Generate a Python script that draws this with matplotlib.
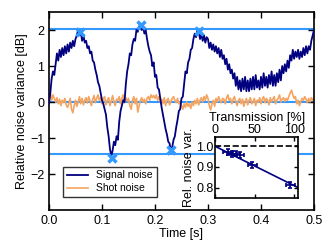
import numpy as np
import matplotlib
matplotlib.use("Agg")
import matplotlib.pyplot as plt

plt.rcParams['font.family'] = ['Liberation Sans', 'DejaVu Sans']

# ---------------- data ----------------
signal_noise = [
    -0.05, 0.25, 0.65, 0.85, 0.75, 1.05, 1.35, 1.15, 1.45, 1.25,
    1.5, 1.3, 1.55, 1.35, 1.6, 1.4, 1.65, 1.5, 1.7, 1.55,
    1.75, 1.85, 2.0, 1.85, 1.95, 1.7, 1.85, 1.65, 1.7, 1.5,
    1.55, 1.35, 1.4, 1.15, 1.1, 0.9, 0.75, 0.55, 0.45, 0.25,
    0.05, -0.05, -0.2, -0.35, -0.7, -0.95, -1.3, -1.5, -1.35, -1.1,
    -1.2, -0.95, -1.05, -0.55, -0.25, -0.1, 0.05, 0.0, 0.5, 0.85,
    1.05, 1.35, 1.3, 1.6, 1.75, 1.7, 2.0, 1.95, 2.1, 2.15,
    2.0, 2.1, 1.9, 2.0, 1.75, 1.55, 1.4, 1.3, 1.0, 1.1,
    0.7, 0.75, 0.4, 0.35, 0.1, -0.15, -0.35, -0.55, -0.75, -0.9,
    -1.1, -1.15, -1.35, -1.25, -1.05, -0.95, -0.7, -0.5, -0.25, -0.2,
    0.1, 0.15, 0.5, 0.85, 0.8, 1.1, 1.2, 1.45, 1.5, 1.75,
    1.9, 1.8, 2.0, 1.95, 1.75, 1.9, 1.7, 1.85, 1.65, 1.8,
    1.75, 1.5, 1.65, 1.45, 1.6, 1.4, 1.55, 1.35, 1.5, 1.25,
    1.45, 1.2, 1.3, 1.05, 1.2, 0.9, 1.05, 0.8, 0.9, 0.65,
    0.8, 0.45, 0.7, 0.35, 0.6, 0.3, 0.65, 0.35, 0.7, 0.3,
    0.6, 0.3, 0.65, 0.35, 0.7, 0.35, 0.75, 0.4, 0.6, 0.35,
    0.7, 0.4, 0.8, 0.45, 0.7, 0.4, 0.75, 0.5, 0.85, 0.45,
    0.75, 0.45, 0.8, 0.55, 0.9, 0.6, 1.0, 0.8, 1.05, 0.85,
    1.15, 0.95, 1.3, 1.15, 1.45, 1.2, 1.4, 1.25, 1.45, 1.2,
    1.4, 1.25, 1.5, 1.3, 1.55, 1.35, 1.55, 1.45, 1.7, 1.85,
    2.0,
]

shot_noise = [
    0.15, 0.25, 0.05, 0.2, 0.1, 0.0, 0.12, -0.05, 0.08, -0.1,
    0.05, -0.02, 0.1, -0.08, -0.15, -0.05, 0.1, -0.2, -0.3, -0.1,
    0.05, -0.12, 0.0, 0.15, -0.05, 0.1, -0.08, 0.05, 0.12, -0.03,
    0.15, 0.02, -0.1, 0.08, 0.18, -0.02, 0.1, 0.2, 0.05, 0.12,
    -0.05, 0.1, 0.15, -0.08, 0.05, 0.12, -0.1, 0.02, 0.18, 0.0,
    -0.1, 0.08, 0.05, 0.15, -0.05, 0.1, 0.2, -0.02, 0.12, 0.03,
    0.1, -0.1, -0.2, 0.05, 0.15, -0.05, 0.1, -0.28, -0.1, 0.05,
    0.12, 0.0, 0.08, -0.05, 0.1, 0.15, 0.05, 0.2, 0.12, 0.18,
    0.1, 0.2, 0.05, 0.15, 0.0, 0.08, -0.05, 0.12, -0.1, 0.05,
    0.1, -0.08, 0.02, 0.1, 0.15, 0.05, -0.02, 0.1, -0.05, 0.0,
    -0.1, -0.2, -0.05, -0.15, 0.0, -0.12, -0.05, -0.18, 0.0, -0.1,
    0.05, -0.05, 0.1, -0.08, 0.05, 0.12, 0.0, 0.15, 0.05, 0.2,
    0.1, -0.1, -0.22, -0.05, 0.05, -0.12, 0.1, 0.0, 0.15, 0.05,
    -0.02, 0.1, 0.08, -0.05, 0.12, 0.2, 0.05, 0.1, -0.05, 0.08,
    0.15, 0.0, -0.1, 0.05, 0.1, -0.05, 0.08, -0.12, 0.0, 0.1,
    -0.08, 0.05, 0.12, -0.05, 0.0, 0.1, -0.1, 0.05, 0.0, 0.12,
    -0.05, 0.08, 0.15, -0.02, 0.1, 0.05, -0.08, 0.12, 0.0, 0.08,
    0.15, -0.05, 0.05, 0.1, 0.2, 0.0, 0.08, 0.12, 0.02, 0.1,
    0.05, 0.15, 0.25, 0.33, 0.2, 0.1, 0.15, -0.05, 0.05, -0.1,
    0.0, 0.1, 0.05, 0.15, 0.08, -0.02, 0.1, 0.0, 0.12, 0.05,
    0.1,
]

sample_dt = 0.0025
time = np.arange(len(signal_noise)) * sample_dt

level_lines = [2.03, 0.0, -1.43]
extrema_t = [0.058, 0.119, 0.173, 0.231, 0.283]
extrema_v = [1.95, -1.55, 2.15, -1.33, 1.97]

trans_pct = [16, 21, 26, 31, 47, 95]
rel_var = [0.972, 0.962, 0.965, 0.958, 0.909, 0.813]
trans_err = [6, 6, 6, 6, 6, 6]
var_err = [0.014, 0.014, 0.014, 0.014, 0.014, 0.014]
fit_t = [0, 105]
fit_v = [1.0, 0.800]

# ---------------- figure ----------------
fig = plt.figure(figsize=(3.31, 2.48), dpi=100)
ax = fig.add_axes([0.148, 0.153, 0.8006, 0.7986])

light_blue = '#3399ff'
for lv in level_lines:
    ax.axhline(lv, color=light_blue, lw=1.5, zorder=1)

ax.plot(time, shot_noise, color='#f4a460', lw=1.2, label='Shot noise', zorder=2)
ax.plot(time, signal_noise, color='#000080', lw=1.3, label='Signal noise', zorder=3)
ax.plot(extrema_t, extrema_v, ls='none', marker='x', ms=6, mew=2.5,
        color=light_blue, zorder=4)

ax.set_xlim(0, 0.5)
ax.set_ylim(-3, 2.5)
ax.set_xticks([0.0, 0.1, 0.2, 0.3, 0.4, 0.5])
ax.set_yticks([-2, -1, 0, 1, 2])
ax.set_yticklabels(['\u22122', '\u22121', '0', '1', '2'])
ax.tick_params(direction='in', top=True, right=True, labelsize=9, length=4, width=1)
for s in ax.spines.values():
    s.set_linewidth(1.2)
ax.set_xlabel('Time [s]', fontsize=9, labelpad=1)
ax.set_ylabel('Relative noise variance [dB]', fontsize=9, labelpad=1)

h, l = ax.get_legend_handles_labels()
leg = ax.legend([h[1], h[0]], [l[1], l[0]], loc='lower left',
                bbox_to_anchor=(0.035, 0.04), fontsize=7.5, frameon=True,
                fancybox=False, handlelength=2.0, borderpad=0.35,
                labelspacing=0.3)
leg.get_frame().set_edgecolor('black')
leg.get_frame().set_linewidth(1.0)

# inset
ax2 = fig.add_axes([0.650, 0.2016, 0.251, 0.246])
ax2.axhline(1.0, color='black', ls='--', lw=1.2)
ax2.plot(fit_t, fit_v, color='#000080', lw=1.2)
ax2.errorbar(trans_pct, rel_var, xerr=trans_err, yerr=var_err, ls='none',
             color='#000080', elinewidth=1.2, capsize=1.5, capthick=1.2)
ax2.set_xlim(0, 105)
ax2.set_ylim(0.75, 1.045)
ax2.set_xticks([0, 50, 100])
ax2.set_yticks([0.8, 0.9, 1.0])
ax2.xaxis.tick_top()
ax2.xaxis.set_label_position('top')
ax2.tick_params(direction='in', top=True, bottom=True, left=True, right=True,
                labelsize=9, length=3, width=1, pad=1)
for s in ax2.spines.values():
    s.set_linewidth(1.2)
ax2.set_xlabel('Transmission [%]', fontsize=9, labelpad=2)
ax2.set_ylabel('Rel. noise var.', fontsize=9, labelpad=1)

fig.savefig('out.png', dpi=100)
